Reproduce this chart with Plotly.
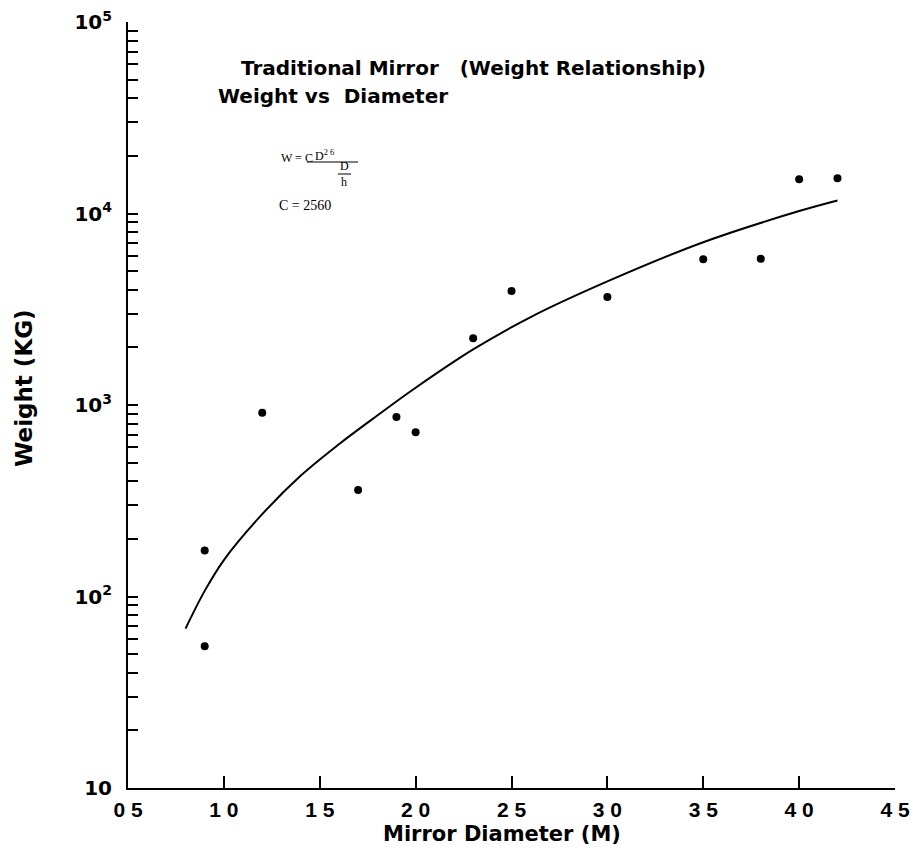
import plotly.graph_objects as go

# Measured mirrors
diameter_m = [0.9, 0.9, 1.2, 1.7, 1.9, 2.0, 2.3, 2.5, 3.0, 3.5, 3.8, 4.0, 4.2]
weight_kg = [174, 55, 910, 360, 865, 720, 2230, 3940, 3660, 5770, 5800, 15100, 15300]

# Fitted curve
curve_diameter = [0.8, 0.9, 1.0, 1.2, 1.4, 1.6, 1.8, 2.0, 2.3, 2.6, 3.0, 3.5, 4.0, 4.2]
curve_weight = [68, 107, 155, 269, 427, 624, 881, 1230, 1950, 2880, 4420, 7080, 10300, 11700]

x_tickvals = [0.5, 1.0, 1.5, 2.0, 2.5, 3.0, 3.5, 4.0, 4.5]
x_ticktext = ["0 5", "1 0", "1 5", "2 0", "2 5", "3 0", "3 5", "4 0", "4 5"]
y_tickvals = [10, 100, 1000, 10000, 100000]
y_ticktext = ["10", "10<sup>2</sup>", "10<sup>3</sup>", "10<sup>4</sup>", "10<sup>5</sup>"]

fig = go.Figure()
fig.add_trace(go.Scatter(
    x=curve_diameter, y=curve_weight, mode="lines",
    line=dict(color="black", width=2, shape="spline", smoothing=1.0),
    showlegend=False, hoverinfo="skip"))
fig.add_trace(go.Scatter(
    x=diameter_m, y=weight_kg, mode="markers",
    marker=dict(color="black", size=8),
    showlegend=False))

W, H = 913, 858
L, R, T, B = 128, 18, 22, 70
pw, ph = W - L - R, H - T - B

def px(xp):
    return (xp - L) / pw

def py(yp):
    return (H - B - yp) / ph

sans = "Liberation Sans, Arial, sans-serif"
wide = "DejaVu Sans, Verdana, sans-serif"
serif = "Liberation Serif, Times New Roman, serif"

annotations = [
    dict(text="<b>Traditional Mirror   (Weight Relationship)</b>", x=px(239), y=py(68),
         font=dict(family=wide, size=20, color="black")),
    dict(text="<b>Weight vs  Diameter</b>", x=px(216), y=py(96),
         font=dict(family=wide, size=20, color="black")),
    dict(text="<b>Weight (KG)</b>", x=px(24), y=py(388), xanchor="center", textangle=-90,
         font=dict(family=wide, size=23, color="black")),
    dict(text="<b>Mirror Diameter (M)</b>", x=px(502), y=py(834), xanchor="center",
         font=dict(family=wide, size=21, color="black")),
    dict(text="W = C", x=px(279), y=py(158),
         font=dict(family=serif, size=12, color="black")),
    dict(text="D<sup>2 6</sup>", x=px(313), y=py(155),
         font=dict(family=serif, size=12, color="black")),
    dict(text="D", x=px(344), y=py(166), xanchor="center",
         font=dict(family=serif, size=12, color="black")),
    dict(text="h", x=px(344), y=py(182), xanchor="center",
         font=dict(family=serif, size=12, color="black")),
    dict(text="C = 2560", x=px(277), y=py(205),
         font=dict(family=serif, size=14, color="black")),
]
for a in annotations:
    a.setdefault("xanchor", "left")
    a.update(xref="paper", yref="paper", yanchor="middle", showarrow=False)

# fraction bars of the formula
shapes = [
    dict(type="line", xref="paper", yref="paper", x0=px(307), x1=px(358), y0=py(162), y1=py(162),
         line=dict(color="black", width=1)),
    dict(type="line", xref="paper", yref="paper", x0=px(338), x1=px(351), y0=py(174), y1=py(174),
         line=dict(color="black", width=1)),
]

fig.update_layout(
    width=W, height=H,
    margin=dict(l=L, r=R, t=T, b=B, autoexpand=False),
    plot_bgcolor="white", paper_bgcolor="white",
    annotations=annotations, shapes=shapes,
    xaxis=dict(
        range=[0.5, 4.5], tickvals=x_tickvals, ticktext=x_ticktext,
        ticks="inside", ticklen=12, tickwidth=2, tickcolor="black",
        showline=True, linecolor="black", linewidth=2, showgrid=False, zeroline=False,
        tickfont=dict(family=sans, size=21, color="black", weight="bold"),
        ticklabelstandoff=2,
    ),
    yaxis=dict(
        type="log", range=[1, 5], tickvals=y_tickvals, ticktext=y_ticktext,
        ticks="inside", ticklen=10, tickwidth=2, tickcolor="black",
        showline=True, linecolor="black", linewidth=2, showgrid=False, zeroline=False,
        tickfont=dict(family=wide, size=20, color="black", weight="bold"),
        ticklabelstandoff=10,
        minor=dict(ticks="inside", ticklen=10, tickwidth=2, tickcolor="black",
                   dtick="D1", showgrid=False),
    ),
)

fig.write_html("out.html", config={"displayModeBar": False},
               post_script="document.body.style.margin='0px';")
